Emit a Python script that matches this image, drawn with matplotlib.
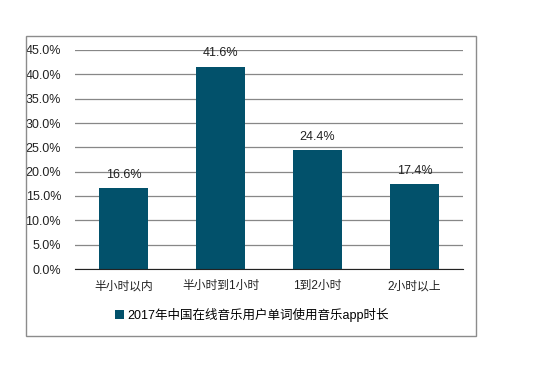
import matplotlib
matplotlib.use("Agg")
from matplotlib import pyplot as plt
from matplotlib.patches import Rectangle
from matplotlib.ticker import FuncFormatter

plt.rcParams['font.family'] = ['Liberation Sans', 'Noto Sans CJK SC', 'DejaVu Sans']

categories = ['半小时以内', '半小时到1小时', '1到2小时', '2小时以上']
values = [16.6, 41.6, 24.4, 17.4]
series_name = '2017年中国在线音乐用户单词使用音乐app时长'
bar_color = '#02516b'

W, H = 556, 365
fig = plt.figure(figsize=(W / 100, H / 100), dpi=100)
ax = fig.add_axes([75 / W, 1 - 269 / H, (463 - 75) / W, (269 - 50) / H])

# outer chart frame
fig.patches.append(Rectangle((26 / W, 1 - 336 / H), 450 / W, 300 / H,
                             transform=fig.transFigure, fill=False,
                             edgecolor='#8c8c8c', linewidth=1))

x = range(len(categories))
bars = ax.bar(x, values, width=0.5, color=bar_color, label=series_name, zorder=3)
for b, v in zip(bars, values):
    ax.text(b.get_x() + b.get_width() / 2, v + 1.5, f'{v:.1f}%',
            ha='center', va='bottom', fontsize=9, color='#222222')

ax.set_xlim(-0.5, len(categories) - 0.5)
ax.set_ylim(0, 45)
ax.set_yticks([i * 5 for i in range(10)])
ax.yaxis.set_major_formatter(FuncFormatter(lambda v, p: f'{v:.1f}%'))
ax.set_xticks(list(x))
ax.set_xticklabels(categories, fontsize=8.5)
ax.tick_params(axis='both', length=0, labelsize=9, colors='#222222')
ax.tick_params(axis='x', pad=8, labelsize=8.5)
ax.tick_params(axis='y', pad=10)
ax.grid(axis='y', color='#878787', linewidth=0.9, zorder=0)
for s in ['top', 'right', 'left']:
    ax.spines[s].set_visible(False)
ax.spines['bottom'].set_color('#222222')
ax.spines['bottom'].set_zorder(4)

fig.legend(loc='center', bbox_to_anchor=(252 / W, 1 - 315 / H), frameon=False,
           fontsize=9, handlelength=0.7, handleheight=0.7, handletextpad=0.3)

fig.savefig('out.png', dpi=100, facecolor='white')
